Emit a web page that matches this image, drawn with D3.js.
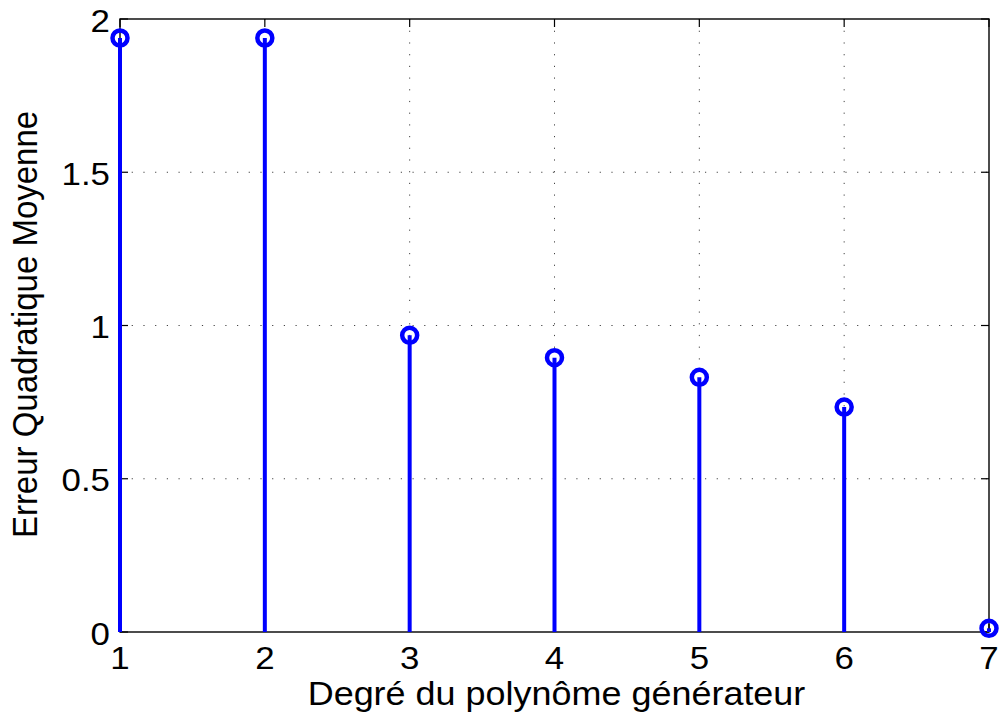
<!DOCTYPE html>
<html>
<head>
<meta charset="utf-8">
<script src="https://cdn.jsdelivr.net/npm/d3@7"></script>
<style>
  html, body { margin: 0; padding: 0; background: #fff; }
  svg { display: block; }
  text { font-family: "Liberation Sans", Arial, Helvetica, sans-serif; }
</style>
</head>
<body>
<svg id="chart" width="1000" height="713"></svg>
<script>
const degrees = [1, 2, 3, 4, 5, 6, 7];
const mse = [1.938, 1.938, 0.968, 0.895, 0.831, 0.734, 0.012];
const xTicks = [1, 2, 3, 4, 5, 6, 7];
const yTicks = [0, 0.5, 1, 1.5, 2];
const yTickLabels = ["0", "0.5", "1", "1.5", "2"];
const xLabel = "Degré du polynôme générateur";
const yLabel = "Erreur Quadratique Moyenne";

const svg = d3.select("#chart");
const pL = 120, pR = 989, pT = 19, pB = 632;
const sx = 1.09; // horizontal glyph stretch seen in the reference

const x = d3.scaleLinear().domain([1, 7]).range([pL, pR]);
const y = d3.scaleLinear().domain([0, 2]).range([pB, pT]);

// grid
const grid = svg.append("g");
grid.selectAll("line.gx").data(xTicks.slice(1, -1)).enter().append("line")
  .attr("x1", d => x(d)).attr("x2", d => x(d))
  .attr("y1", pT).attr("y2", pB)
  .attr("stroke", "#444").attr("stroke-width", 1).attr("stroke-dasharray", "1.2,10.5");
grid.selectAll("line.gy").data(yTicks.slice(1, -1)).enter().append("line")
  .attr("x1", pL).attr("x2", pR)
  .attr("y1", d => y(d)).attr("y2", d => y(d))
  .attr("stroke", "#444").attr("stroke-width", 1).attr("stroke-dasharray", "1.2,10.5");

// box
svg.append("rect").attr("x", pL).attr("y", pT)
  .attr("width", pR - pL).attr("height", pB - pT)
  .attr("fill", "none").attr("stroke", "#000").attr("stroke-width", 1.4);

// ticks (inward) on all four sides
const tl = 8;
const tg = svg.append("g").attr("stroke", "#000").attr("stroke-width", 1.2);
xTicks.forEach(d => {
  tg.append("line").attr("x1", x(d)).attr("x2", x(d)).attr("y1", pB).attr("y2", pB - tl);
  tg.append("line").attr("x1", x(d)).attr("x2", x(d)).attr("y1", pT).attr("y2", pT + tl);
});
yTicks.forEach(d => {
  tg.append("line").attr("x1", pL).attr("x2", pL + tl).attr("y1", y(d)).attr("y2", y(d));
  tg.append("line").attr("x1", pR).attr("x2", pR - tl).attr("y1", y(d)).attr("y2", y(d));
});

// tick labels
svg.append("g").selectAll("text").data(xTicks).enter().append("text")
  .attr("transform", d => `translate(${x(d)},669) scale(${sx},1)`)
  .attr("text-anchor", "middle").attr("font-size", 32).text(d => d);
svg.append("g").selectAll("text").data(yTicks).enter().append("text")
  .attr("transform", d => `translate(110,${y(d) + 12.5}) scale(${sx},1)`)
  .attr("text-anchor", "end").attr("font-size", 32).text((d, i) => yTickLabels[i]);

// axis labels
svg.append("text").attr("transform", `translate(${(pL + pR) / 2 + 2},705) scale(${sx},1)`)
  .attr("text-anchor", "middle").attr("font-size", 33).text(xLabel);
svg.append("text").attr("transform", `translate(37,${(pT + pB) / 2 - 1}) scale(${sx},1) rotate(-90)`)
  .attr("text-anchor", "middle").attr("font-size", 33).text(yLabel);

// stems
const stems = svg.append("g");
stems.selectAll("line").data(degrees).enter().append("line")
  .attr("x1", d => x(d)).attr("x2", d => x(d))
  .attr("y1", y(0)).attr("y2", (d, i) => y(mse[i]))
  .attr("stroke", "#0000ff").attr("stroke-width", 4);
stems.selectAll("circle").data(degrees).enter().append("circle")
  .attr("cx", d => x(d)).attr("cy", (d, i) => y(mse[i]))
  .attr("r", 7.5).attr("fill", "none")
  .attr("stroke", "#0000ff").attr("stroke-width", 4.5);
</script>
</body>
</html>
